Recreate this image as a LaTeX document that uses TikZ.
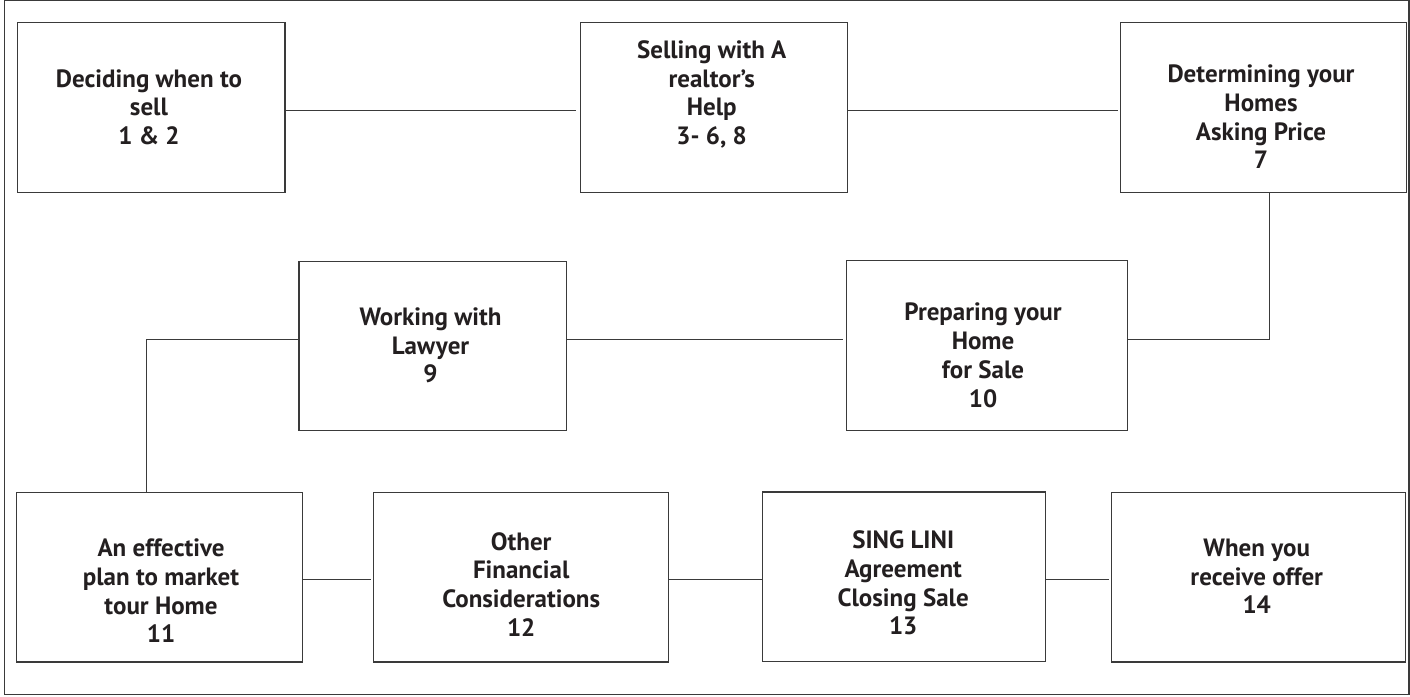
\documentclass[tikz,border=0pt]{standalone}
\usepackage{fontspec}
\setmainfont{PT Sans}
\usetikzlibrary{calc}
\definecolor{ink}{HTML}{231F20}
\definecolor{edge}{HTML}{3A3A3A}
\begin{document}
\begin{tikzpicture}[x=1pt,y=-1pt,
  stepbox/.style={draw=edge,line width=1.3pt,inner sep=0pt,outer sep=0pt,minimum height=169.6pt},
  txt/.style={inner sep=0pt,outer sep=0pt,align=center,text=ink,font=\fontsize{25}{28.7}\selectfont\bfseries},
  conn/.style={draw=edge,line width=1pt},
  frame/.style={draw=edge,line width=1.3pt}]
\useasboundingbox (0,0) rectangle (1410,696);
\draw[frame] (4.3,0.7) rectangle (1409,694.7);
% boxes
\node[stepbox,minimum width=267.3pt] (b1) at (151.35,107.5) {};
\node[stepbox,minimum width=267pt]   (b2) at (713.8,107.5) {};
\node[stepbox,minimum width=286pt]   (b3) at (1263.7,107.5) {};
\node[stepbox,minimum width=267.7pt,minimum height=169pt] (b4) at (432.85,346.2) {};
\node[stepbox,minimum width=281pt]   (b5) at (987.2,345.55) {};
\node[stepbox,minimum width=286pt]   (b6) at (159.3,577.15) {};
\node[stepbox,minimum width=295pt]   (b7) at (521.2,577.15) {};
\node[stepbox,minimum width=283pt,minimum height=169.3pt] (b8) at (904.2,576.65) {};
\node[stepbox,minimum width=294.4pt] (b9) at (1258.5,577.15) {};
% texts
\newcommand{\lx}[1]{\vphantom{Ag}#1}
\node[txt] (t1) at ($(b1.center)+(-2.4,2)$) {\lx{Deciding when to}\\\lx{sell}\\\lx{1 \& 2}};
\node[txt] (t2) at ($(b2.center)+(-2.1,-12.4)$) {\lx{Selling with A}\\\lx{realtor{\char"0027}s}\\\lx{Help}\\\lx{3- 6, 8}};
\node[txt] (t3) at ($(b3.center)+(-2.7,12)$) {\lx{Determining your}\\\lx{Homes}\\\lx{Asking Price}\\\lx{7}};
\node[txt] (t4) at ($(b4.center)+(-2.3,1.8)$) {\lx{Working with}\\\lx{Lawyer}\\\lx{9}};
\node[txt] (t5) at ($(b5.center)+(-4.2,12.2)$) {\lx{Preparing your}\\\lx{Home}\\\lx{for Sale}\\\lx{10}};
\node[txt] (t6) at ($(b6.center)+(1.7,16.3)$) {\lx{An effective}\\\lx{plan to market}\\\lx{tour Home}\\\lx{11}};
\node[txt] (t7) at ($(b7.center)+(0,9.7)$) {\lx{Other}\\\lx{Financial}\\\lx{Considerations}\\\lx{12}};
\node[txt] (t8) at ($(b8.center)+(-1,9)$) {\lx{SING LINI}\\\lx{Agreement}\\\lx{Closing Sale}\\\lx{13}};
\node[txt] (t9) at ($(b9.center)+(-1.8,1.9)$) {\lx{When you}\\\lx{receive offer}\\\lx{14}};
% connectors
\draw[conn] ([yshift=-2.5pt]b1.east) -- ([yshift=-2.5pt,xshift=-4.6pt]b2.west);
\draw[conn] ([yshift=-2.5pt]b2.east) -- ([yshift=-2.5pt,xshift=-2.4pt]b3.west);
\draw[conn] ([xshift=5.6pt]b3.south) |- ([yshift=6.55pt]b5.east);
\draw[conn] ([yshift=6.55pt,xshift=-4pt]b5.west) -- ([yshift=6.55pt]b5.west -| b4.east);
\draw[conn] ([yshift=7.2pt]b4.west) -| ([xshift=-12.6pt]b6.north);
\draw[conn] ([yshift=-2.15pt]b6.east) -- ([yshift=-2.15pt,xshift=-3pt]b6.east -| b7.west);
\draw[conn] ([yshift=-2.15pt]b7.east) -- ([yshift=-2.15pt]b7.east -| b8.west);
\draw[conn] ([yshift=-2.65pt]b8.east) -- ([yshift=-2.65pt,xshift=-2.3pt]b8.east -| b9.west);
\end{tikzpicture}
\end{document}
